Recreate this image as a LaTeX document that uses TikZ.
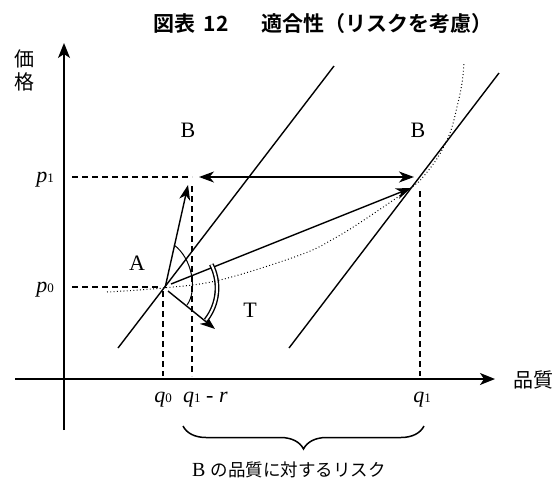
\documentclass[tikz,border=0pt]{standalone}
\usepackage{fontspec}
\setmainfont{Liberation Serif}
\newfontfamily\cjk{Noto Sans CJK JP}
\newfontfamily\cjkb{Noto Sans CJK JP Bold}
\usetikzlibrary{arrows.meta,decorations.pathreplacing,calc}
\newcommand\lowdig[1]{{\fontsize{13}{13}\selectfont #1}}
\begin{document}
\begin{tikzpicture}[x=1pt,y=-1pt,
  axis/.style={line width=1.5pt,-{Stealth[length=15pt,width=12pt,inset=4pt]}},
  ln/.style={line width=1.4pt},
  arr/.style={line width=1.4pt,-{Stealth[length=15pt,width=11pt,inset=4.5pt]}},
  darr/.style={line width=1.4pt,{Stealth[length=15pt,width=11pt,inset=4.5pt]}-{Stealth[length=15pt,width=11pt,inset=4.5pt]}},
  dsh/.style={line width=1.3pt,dash pattern=on 6pt off 4pt},
  dotc/.style={line width=1pt,dash pattern=on 0.9pt off 2.4pt},
  thin arc/.style={line width=1pt},
  dbl/.style={double,double distance=2pt,line width=1.4pt},
  lab/.style={font=\fontsize{22}{22}\selectfont,inner sep=0pt},
  jlab/.style={font=\cjk\fontsize{20}{23}\selectfont,inner sep=0pt},
  bracestyle/.style={line width=1.5pt,decorate,decoration={brace,amplitude=23pt}}]
\useasboundingbox (0,0) rectangle (560,491);
% axes
\coordinate (yb) at (64,430); \coordinate (yt) at (64,43);
\coordinate (xl) at (15,379); \coordinate (xr) at (495,379);
\draw[axis] (yb) -- (yt);
\draw[axis] (xl) -- (xr);
% key points
\coordinate (P) at (165,288);
\coordinate (L1a) at (118,348); \coordinate (L1b) at (334,66);
\coordinate (L2a) at (289,348); \coordinate (L2b) at (499,73);
\draw[ln] (L1a) -- (L1b);
\draw[ln] (L2a) -- (L2b);
% dotted curve
\draw[dotc] plot[smooth,tension=0.6] coordinates {(107,292) (163,288) (220,280) (300,255) (335,238) (367,218) (412,187) (423,177) (438,157) (450,133) (457,107) (462,83) (464,63)};
% dashed guides
\coordinate (dp1a) at (72,177); \coordinate (dp1b) at (192,177);
\coordinate (dp0a) at (72,287); \coordinate (dp0b) at (160,287);
\coordinate (dq0a) at (163,291); \coordinate (dq0b) at (163,376);
\coordinate (dqra) at (192,186); \coordinate (dqrb) at (192,376);
\coordinate (dq1a) at (420,191); \coordinate (dq1b) at (420,376);
\draw[dsh] (dp1a) -- (dp1b);
\draw[dsh] (dp0a) -- (dp0b);
\draw[dsh] (dq0a) -- (dq0b);
\draw[dsh] (dqra) -- (dqrb);
\draw[dsh] (dq1a) -- (dq1b);
% arrows
\coordinate (h1) at (199,177); \coordinate (h2) at (414,177);
\draw[darr] (h1) -- (h2);
\coordinate (Bt1) at (188,185);
\draw[arr] (P) -- (Bt1);
\coordinate (Ps) at (171,284); \coordinate (Bt2) at (411,188);
\draw[arr] (Ps) -- (Bt2);
\coordinate (Pt) at (168,291); \coordinate (Tt) at (215,329);
\draw[arr] (Pt) -- (Tt);
% angle arcs
\coordinate (aa) at (174,245); \coordinate (ab) at (187,305);
\draw[thin arc] (aa) .. controls (192,258) and (198,290) .. (ab);
\draw[dbl] (P) ++(-27:52) arc[start angle=-27,end angle=38,radius=52];
% labels
\node[lab] (B1) at (188,130) {B};
\node[lab] (B2) at (418,130) {B};
\node[lab] (A) at (137,263) {A};
\node[lab] (T) at (250,310) {T};
\node[lab,anchor=base east] (p1) at (54,182) {\textit{p}\lowdig{1}};
\node[lab,anchor=base east] (p0) at (54,292) {\textit{p}\lowdig{0}};
\node[lab,anchor=base] (q0) at (163,402) {\textit{q}\lowdig{0}};
\node[lab,anchor=base west] (qr) at (183,402) {\textit{q}\lowdig{1} - \textit{r}};
\node[lab,anchor=base] (q1) at (422,402) {\textit{q}\lowdig{1}};
\node[jlab,anchor=west] (xq) at (513,380) {品質};
\node[jlab,align=center] (yp) at (24,70) {価\\格};
\node[inner sep=0pt,anchor=west,font=\cjkb\fontsize{21}{21}\selectfont] (title) at (153,24) {図表\hspace{4pt} 12　\hspace{12pt}適合性（リスクを考慮）};
% brace
\coordinate (br1) at (183,426); \coordinate (br2) at (424,426);
\draw[bracestyle] (br2) -- (br1);
\node[inner sep=0pt,anchor=west] (risk) at (192,470) {\fontsize{20}{20}\selectfont B {\cjk\fontsize{17.5}{17.5}\selectfont の品質に対するリスク}};
\end{tikzpicture}
\end{document}
